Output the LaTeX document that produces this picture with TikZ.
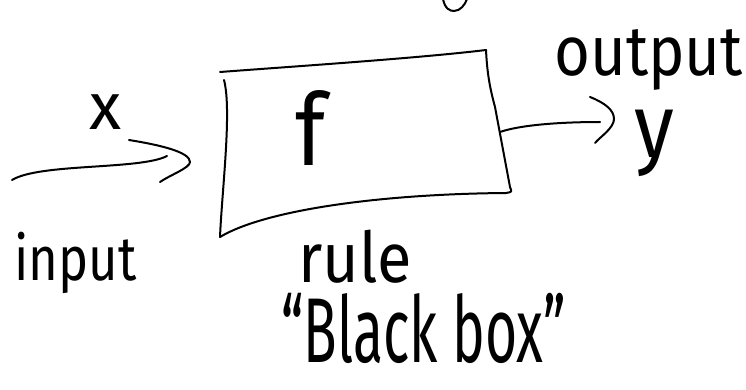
\documentclass[tikz,border=0pt]{standalone}
\usepackage{fontspec}
\newfontfamily\handfont{Fira Sans}
\usepackage{tikz}
\usetikzlibrary{calc}
\newcommand\scrawlsize[1]{\fontsize{#1}{#1}\selectfont}
\tikzset{
  stroke/.style={draw=black,line width=2pt,line cap=round,line join=round},
  scrawl/.style={inner sep=0pt,transform shape,text=black},
}

\begin{document}
\begin{tikzpicture}[x=1pt,y=-1pt]
  \useasboundingbox (0,0) rectangle (746,390);

  % the box
  \draw[stroke] (220,72) .. controls (300,66) and (420,58) .. (486,50);
  \draw[stroke] (224,80) .. controls (232,110) and (222,190) .. (220,237);
  \draw[stroke] (486,50) .. controls (487,70) and (489,85) .. (495,107)
    -- (510,187) .. controls (512,192) .. (506,193)
    .. controls (380,194) and (265,210) .. (220,237);
  \node[scrawl,font=\handfont\scrawlsize{100},xscale=0.9,anchor=base] (fn) at (311,166) {f};

  % fragment cut at the top
  \draw[stroke] (443,-1) .. controls (445,9) and (450,11) .. (454,11)
    .. controls (460,11) and (465,5) .. (467,-1);

  % input side
  \coordinate (in a) at (12,180);
  \coordinate (in b) at (167,156);
  \coordinate (in tip) at (190,162);
  \draw[stroke] (in a) .. controls (40,163) and (140,170) .. (in b);
  \draw[stroke] ($(in tip)+(-61,-22)$) .. controls ($(in tip)+(-30,-17)$) and ($(in tip)+(0,-10)$) .. (in tip)
    .. controls ($(in tip)+(0,6)$) and ($(in tip)+(-20,13)$) .. ($(in tip)+(-30,20)$);
  \node[scrawl,font=\handfont\scrawlsize{66},anchor=base] (xin) at (106,130) {x};
  \node[scrawl,font=\handfont\scrawlsize{62},xscale=0.82,anchor=base west] (input) at (14,280) {input};

  % output side
  \coordinate (out a) at (500,132);
  \coordinate (out b) at (600,122);
  \coordinate (out tip) at (614,119);
  \draw[stroke] (out a) .. controls (520,125) and (560,122) .. (out b);
  \draw[stroke] ($(out tip)+(-24,-22)$) .. controls ($(out tip)+(-9,-16)$) and ($(out tip)+(0,-9)$) .. (out tip)
    .. controls ($(out tip)+(0,9)$) and ($(out tip)+(-14,18)$) .. ($(out tip)+(-19,24)$);
  \node[scrawl,font=\handfont\scrawlsize{70},xscale=0.88,anchor=base west] (output) at (554,76) {output};
  \node[scrawl,font=\handfont\scrawlsize{90},xscale=0.9,anchor=base west] (yout) at (634,158) {y};

  % labels under the box
  \node[scrawl,font=\handfont\scrawlsize{70},xscale=0.9,anchor=base west] (rule) at (298,282) {rule};
  \node[scrawl,font=\handfont\scrawlsize{92},xscale=0.6,anchor=base west] (bbox) at (281,362) {“Black box”};
\end{tikzpicture}
\end{document}
